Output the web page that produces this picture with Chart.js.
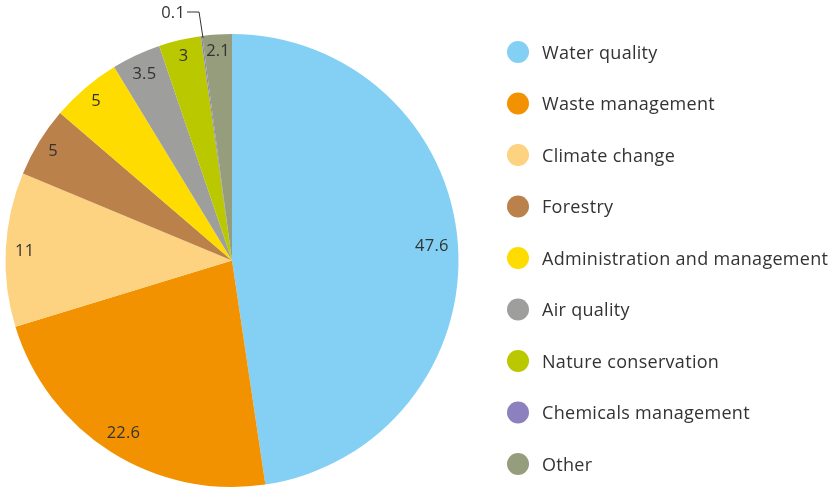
<!DOCTYPE html>
<html>
<head>
<meta charset="utf-8">
<script src="https://cdn.jsdelivr.net/npm/chart.js@4"></script>
<style>
  html, body { margin: 0; padding: 0; background: #fff; }
  #wrap { width: 830px; height: 488px; position: relative; }
</style>
</head>
<body>
<div id="wrap"><canvas id="pie"></canvas></div>
<script>
// 数据
const categories = ['Water quality', 'Waste management', 'Climate change', 'Forestry',
  'Administration and management', 'Air quality', 'Nature conservation',
  'Chemicals management', 'Other'];
const shares = [47.6, 22.6, 11, 5, 5, 3.5, 3, 0.1, 2.1];
const colours = ['#84d0f4', '#f39200', '#fdd281', '#bb814b', '#ffdc00',
  '#9e9e9d', '#bac800', '#8c80bf', '#959d7c'];

const FONT = '"Open Sans", sans-serif';
const INK = '#333333';

// 扇区内标签 + 右侧图例
const labelsPlugin = {
  id: 'sliceLabels',
  afterDraw(chart) {
    const ctx = chart.ctx;
    const arcs = chart.getDatasetMeta(0).data;
    ctx.save();
    ctx.fillStyle = INK;
    ctx.font = '16.5px ' + FONT;
    ctx.letterSpacing = '0.2px';
    ctx.textAlign = 'center';
    ctx.textBaseline = 'middle';
    arcs.forEach((arc, i) => {
      const v = shares[i];
      const mid = (arc.startAngle + arc.endAngle) / 2;
      const s = Math.cos(mid), c = Math.sin(mid);
      if (v < 1) {
        // 外部引线
        const R = arc.outerRadius;
        const ex = arc.x + Math.cos(arc.startAngle) * (R - 2);
        const ey = arc.y + Math.sin(arc.startAngle) * (R - 2);
        ctx.strokeStyle = INK;
        ctx.lineWidth = 1;
        ctx.beginPath();
        ctx.moveTo(ex + 2, ey);
        ctx.lineTo(ex - 2, 12);
        ctx.lineTo(ex - 14, 12);
        ctx.stroke();
        ctx.textAlign = 'right';
        ctx.fillText(String(v), ex - 16, 13);
        ctx.textAlign = 'center';
        return;
      }
      const w = ctx.measureText(String(v)).width;
      const half = Math.abs(s) * w / 2 + Math.abs(c) * 6;
      const d = arc.outerRadius - 9 - half;
      ctx.fillText(String(v), arc.x + s * d, arc.y + c * d + 1);
    });

    // 图例
    ctx.font = '18px ' + FONT;
    ctx.letterSpacing = '0.3px';
    ctx.textAlign = 'left';
    categories.forEach((name, i) => {
      const y = 52 + i * 51.5;
      ctx.fillStyle = colours[i];
      ctx.beginPath();
      ctx.arc(518, y, 11, 0, Math.PI * 2);
      ctx.fill();
      ctx.fillStyle = INK;
      ctx.fillText(name, 542, y + 1.5);
    });
    ctx.restore();
  }
};

new Chart(document.getElementById('pie'), {
  type: 'pie',
  data: {
    labels: categories,
    datasets: [{
      data: shares,
      backgroundColor: colours,
      borderWidth: 0
    }]
  },
  options: {
    responsive: true,
    maintainAspectRatio: false,
    animation: false,
    layout: {padding: {left: 5, top: 34, right: 371, bottom: 1}},
    plugins: {
      legend: {display: false},
      tooltip: {enabled: false}
    }
  },
  plugins: [labelsPlugin]
});
</script>
</body>
</html>
